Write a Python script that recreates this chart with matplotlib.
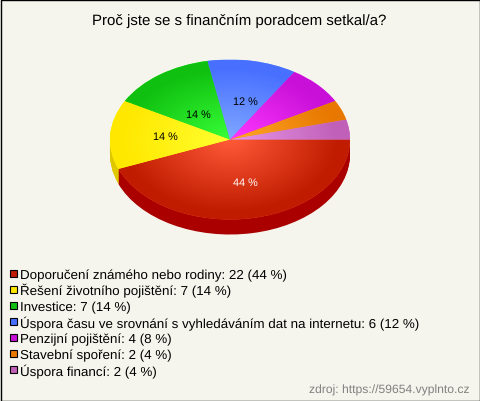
"""Pseudo-3D pie of survey answers, pixel layout matched to a 480x402 canvas."""
import matplotlib
matplotlib.use("Agg")
import matplotlib.pyplot as plt
from matplotlib.colors import LinearSegmentedColormap
from matplotlib.patches import Rectangle
import numpy as np

title = "Proč jste se s finančním poradcem setkal/a?"
categories = ["Doporučení známého nebo rodiny", "Řešení životního pojištění", "Investice",
              "Úspora času ve srovnání s vyhledáváním dat na internetu",
              "Penzijní pojištění", "Stavební spoření", "Úspora financí"]
counts = [22, 7, 7, 6, 4, 2, 2]
percents = [44, 14, 14, 12, 8, 4, 4]
inner_colors = ["#ff5a38", "#ffff30", "#38ff38", "#80a8ff", "#ff38ff", "#ffa828", "#e898e8"]
outer_colors = ["#c01c00", "#ffe800", "#10c010", "#4870ff", "#c810d8", "#e87800", "#c060b8"]
side_colors = ["#aa0000", "#e0c800", "#10a010", "#3050d0", "#a010b0", "#c06000", "#a05098"]
legend_colors = ["#c01c00", "#ffe800", "#10c010", "#4870ff", "#c810d8", "#e87800", "#c060b8"]
label_colors = ["white", "black", "black", "black"]

W, H = 480, 402
BG = "#f5f5ed"
CX, CY, RX, RY, DEPTH = 230, 140.5, 120, 80, 15

plt.rcParams["font.family"] = ["Liberation Sans", "DejaVu Sans"]
plt.rcParams["text.hinting"] = "no_hinting"
fig = plt.figure(figsize=(W / 100, H / 100), dpi=100, facecolor=BG)

# pie axes covers exactly the top ellipse, so data units are radii
pie_ax = fig.add_axes([(CX - RX) / W, 1 - (CY + RY) / H, 2 * RX / W, 2 * RY / H])
for i in range(DEPTH, 0, -1):
    pie_ax.pie(counts, colors=side_colors, startangle=0, counterclock=False,
               center=(0, -i / RY), radius=1, wedgeprops={"linewidth": 0})
tops, _ = pie_ax.pie(counts, colors=inner_colors, startangle=0, counterclock=False,
                     center=(0, 0), radius=1, wedgeprops={"linewidth": 0})
pie_ax.set_aspect("auto")
pie_ax.axis("off")

# radial gradient per slice, clipped to its wedge
xx, yy = np.meshgrid(np.linspace(-1, 1, 300), np.linspace(-1, 1, 300))
rr = np.clip(np.hypot(xx, yy), 0, 1)
for wedge, c0, c1 in zip(tops, inner_colors, outer_colors):
    cmap = LinearSegmentedColormap.from_list("slice", [c0, c1])
    im = pie_ax.imshow(rr, cmap=cmap, extent=(-1, 1, -1, 1), origin="lower",
                       aspect="auto", vmin=0, vmax=0.9, zorder=3)
    im.set_clip_path(wedge)
pie_ax.set_xlim(-1, 1)
pie_ax.set_ylim(-1, 1)

# overlay in pixel coordinates for text and legend
ax = fig.add_axes([0, 0, 1, 1], facecolor="none")
ax.set_xlim(0, W)
ax.set_ylim(H, 0)
ax.axis("off")

ax.text(239.5, 25, title, ha="center", va="baseline", fontsize=10.8, color="black")

label_xy = [(245, 186), (165, 140), (198, 118), (245, 105)]
for (x, y), p, c in zip(label_xy, percents, label_colors):
    ax.text(x, y, f"{p} %", ha="center", va="baseline", fontsize=7.8, color=c)

for i, (name, n, p, c) in enumerate(zip(categories, counts, percents, legend_colors)):
    y = 279 + 16 * i
    ax.add_patch(Rectangle((9.5, y - 8), 7, 7, facecolor=c, edgecolor="black", linewidth=0.8))
    ax.text(20.5, y, f"{name}: {n} ({p} %)", ha="left", va="baseline", fontsize=9.6, color="black")

ax.text(470, 394, "zdroj: https://59654.vyplnto.cz", ha="right", va="baseline",
        fontsize=8.7, color="#808080")

ax.add_patch(Rectangle((0.5, 0.5), W - 1, H - 1, facecolor="none", edgecolor="black", linewidth=1))

fig.savefig("out.png", dpi=100, facecolor=BG)
